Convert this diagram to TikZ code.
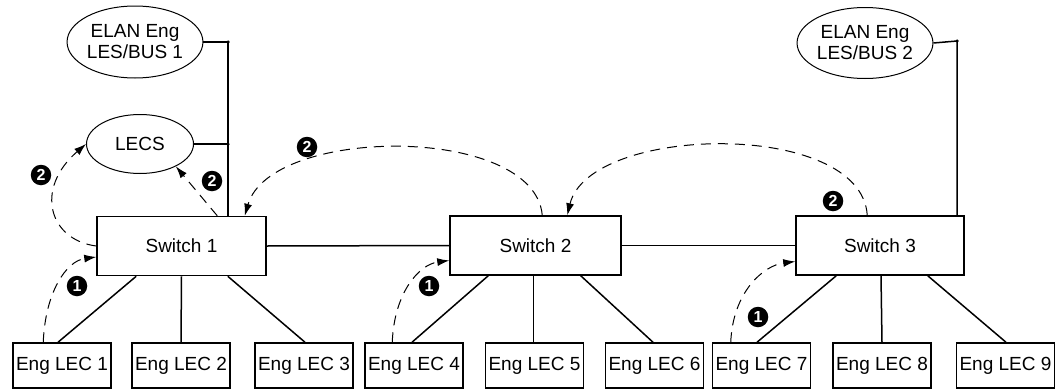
\documentclass[tikz,border=0pt]{standalone}
\usepackage{fontspec}
\setmainfont{Liberation Sans}
\usetikzlibrary{shapes.geometric,arrows.meta,calc}
\begin{document}
\begin{tikzpicture}[x=1pt,y=-1pt,
  every node/.style={font=\fontsize{19}{21}\selectfont, inner sep=0pt},
  link/.style={line width=1.5pt},
  switchbox/.style={draw, line width=1.5pt, minimum width=169pt, minimum height=59pt},
  lecbox/.style={draw, line width=1.5pt, minimum width=98pt, minimum height=45pt},
  server/.style={draw, ellipse, line width=1pt, align=center},
  flow/.style={line width=1pt, dash pattern=on 10pt off 7pt, -{Latex[length=12pt,width=8pt]}},
  stepmark/.style={circle, fill=black, text=white, minimum size=20.5pt,
    font=\fontsize{16}{16}\selectfont\bfseries},
  junction/.style={circle, fill=black, minimum size=3.5pt}]
\useasboundingbox (0,0) rectangle (1063,391);

% servers
\node[server, minimum width=117pt, minimum height=72pt] (elan1) at (135,42) {ELAN Eng\\LES/BUS 1};
\node[server, minimum width=107pt, minimum height=59pt] (lecs) at (140,144) {LECS};
\node[server, minimum width=118pt, minimum height=71pt] (elan2) at (865,43) {ELAN Eng\\LES/BUS 2};

% switches
\node[switchbox] (sw1) at (181.5,246) {Switch 1};
\node[switchbox, minimum width=171pt] (sw2) at (535.5,245.5) {Switch 2};
\node[switchbox, minimum width=168pt] (sw3) at (880,245.5) {Switch 3};

% LAN emulation clients
\node[lecbox] (lec1) at (62,365.5) {Eng LEC 1};
\node[lecbox] (lec2) at (181,365.5) {Eng LEC 2};
\node[lecbox] (lec3) at (304,365.5) {Eng LEC 3};
\node[lecbox] (lec4) at (414,365.5) {Eng LEC 4};
\node[lecbox] (lec5) at (534.5,365.5) {Eng LEC 5};
\node[lecbox] (lec6) at (654.5,365.5) {Eng LEC 6};
\node[lecbox] (lec7) at (761.5,365.5) {Eng LEC 7};
\node[lecbox] (lec8) at (882,365.5) {Eng LEC 8};
\node[lecbox] (lec9) at (1005.5,365.5) {Eng LEC 9};

% server bus lines
\coordinate (bus1) at (228,42);
\coordinate (bus2) at (957,41);
\draw[link] (elan1.east) -- (bus1) -- (bus1 |- sw1.north);
\draw[link] (lecs.east) -- (lecs.east -| bus1);
\node[junction] (j1) at (bus1) {};
\node[junction] (j2) at (lecs.east -| bus1) {};
\draw[link] (elan2.east) -- (bus2) -- (bus2 |- sw3.north);
\node[junction] (j3) at (bus2) {};

% trunk links
\draw[link] (sw1.east) -- (sw2.west);
\draw[link] (sw2.east) -- (sw3.west);

% access links
\draw[link] ($(sw1.south west)+(40,0)$) -- ($(lec1.north)+(-4,0)$);
\draw[link] (sw1.south) -- (lec2.north);
\draw[link] ($(sw1.south east)+(-39,0)$) -- ($(lec3.north)+(1,0)$);
\draw[link] ($(sw2.south west)+(39,0)$) -- ($(lec4.north)+(-2,0)$);
\draw[link] ($(sw2.south)+(-2,0)$) -- ($(lec5.north)+(-1,0)$);
\draw[link] ($(sw2.south east)+(-41,0)$) -- ($(lec6.north)+(-1.5,0)$);
\draw[link] ($(sw3.south west)+(41,0)$) -- ($(lec7.north)+(-4.5,0)$);
\draw[link] ($(sw3.south)+(1,0)$) -- (lec8.north);
\draw[link] ($(sw3.south east)+(-37,0)$) -- ($(lec9.north)+(0.5,0)$);

% step 1: clients contact their switch
\draw[flow] ($(lec1.north west)+(31,0)$) .. controls +(2,-50) and +(-30,4) .. ($(sw1.west)+(0,11)$);
\draw[flow] ($(lec4.north west)+(28,0)$) .. controls +(2,-50) and +(-30,4) .. ($(sw2.west)+(0,15)$);
\draw[flow] ($(lec7.north west)+(19,0)$) .. controls +(2,-50) and +(-32,4) .. ($(sw3.west)+(0,16)$);

% step 2: requests forwarded towards the LECS
\draw[flow] (sw1.west) .. controls +(-47,-6) and +(-52,45) .. (lecs.west);
\draw[flow] ($(sw1.north west)+(121,0)$) -- (lecs.-32);
\draw[flow] ($(sw2.north west)+(93,0)$) .. controls +(-8,-91) and +(26,-90) .. ($(sw1.north east)+(-22,0)$);
\draw[flow] ($(sw3.north west)+(72,0)$) .. controls +(-6,-96) and +(22,-91) .. ($(sw2.north west)+(118,0)$);

% step markers
\node[stepmark] (s1a) at (77,286) {1};
\node[stepmark] (s1b) at (429,286) {1};
\node[stepmark] (s1c) at (758,317) {1};
\node[stepmark] (s2a) at (41,175) {2};
\node[stepmark] (s2b) at (212,181) {2};
\node[stepmark] (s2c) at (307,147) {2};
\node[stepmark] (s2d) at (833,201) {2};
\end{tikzpicture}
\end{document}
